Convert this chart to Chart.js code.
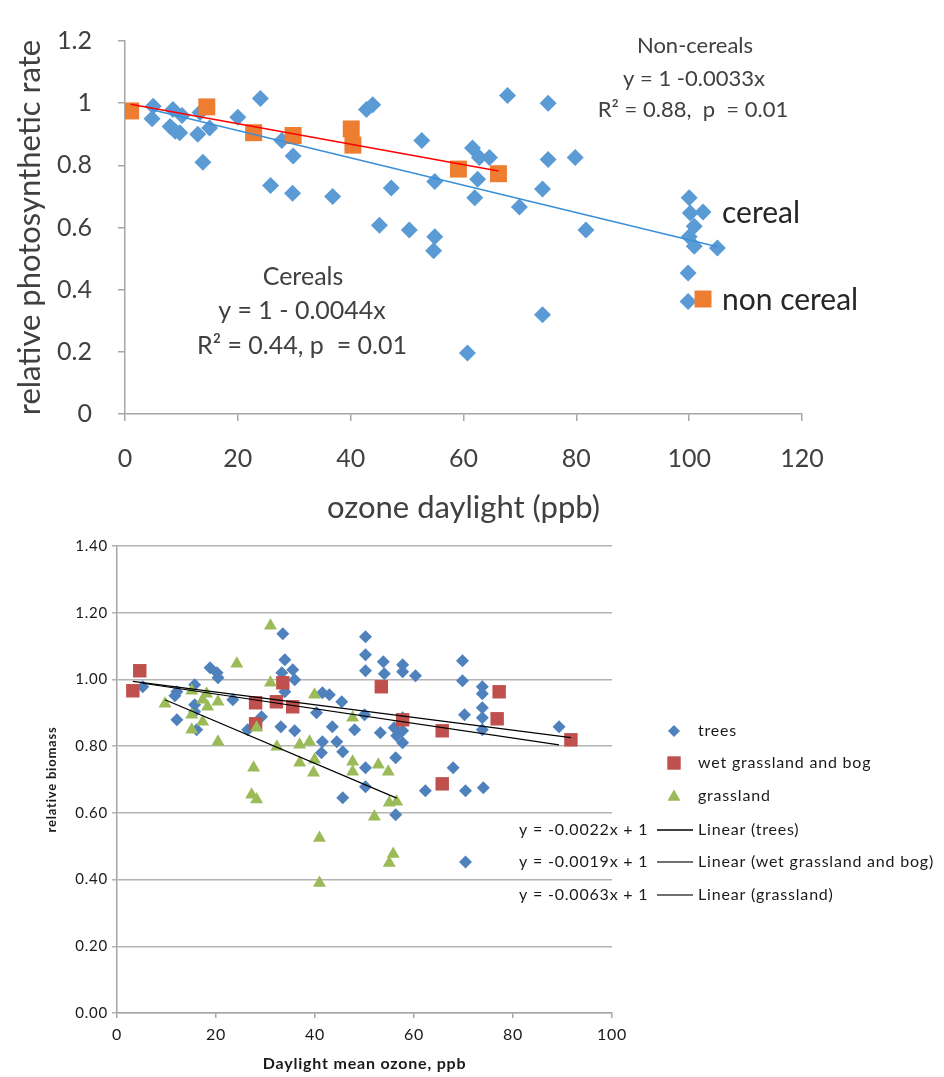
<!DOCTYPE html>
<html><head><meta charset="utf-8">
<script src="https://cdn.jsdelivr.net/npm/chart.js@4/dist/chart.umd.min.js"></script>
<style>
html,body{margin:0;padding:0;background:#fff;width:944px;height:1077px;overflow:hidden}
#c1{position:absolute;left:0;top:0}
#c2{position:absolute;left:0;top:530px}
</style></head><body>
<canvas id="c1" width="944" height="530"></canvas>
<canvas id="c2" width="944" height="547"></canvas>
<script>
// ===== Top chart data: relative photosynthetic rate vs ozone daylight (ppb)
const cerealX = [5,4.8,8.5,10.1,8,8.9,9.7,12.9,13.3,15,13.8,20,24,27.8,29.8,25.8,29.7,36.8,42.8,43.9,45.1,47.2,50.4,52.6,54.9,54.9,54.7,60.7,61.6,62.8,62.5,62,64.6,67.8,69.9,74,74,75,75,79.8,81.7,100,100.2,100.9,100,100.9,105,99.8,99.8];
const cerealY = [0.99,0.95,0.98,0.96,0.925,0.91,0.905,0.90,0.97,0.92,0.81,0.955,1.015,0.88,0.83,0.735,0.71,0.70,0.98,0.995,0.607,0.727,0.592,0.88,0.748,0.57,0.525,0.196,0.856,0.825,0.755,0.696,0.825,1.025,0.666,0.724,0.319,1.0,0.819,0.825,0.592,0.696,0.647,0.604,0.57,0.54,0.534,0.454,0.362];
const nonCerealX = [1,14.5,22.8,29.8,40.1,40.4,59.1,66.2];
const nonCerealY = [0.975,0.988,0.905,0.896,0.917,0.865,0.788,0.773];
const cerealFit = {intercept: 1, slope: -0.0044};
const nonCerealFit = {intercept: 1, slope: -0.0033};
const topXTicks = [0,20,40,60,80,100,120];
const topYTicks = [0,0.2,0.4,0.6,0.8,1,1.2];

// ===== Bottom chart data: relative biomass vs daylight mean ozone (ppb)
const treesX = [5.2,12.1,11.7,12.1,15.7,15.7,15.7,16.1,18.8,20.2,20.4,23.4,26.4,29.2,33.5,33.9,33.3,35.5,35.9,33.9,33.1,35.9,41.5,42.9,45.4,40.3,50,43.5,48,41.5,44.4,41.3,45.6,50.2,50.2,45.6,50.2,50.2,50.2,53.8,54,57.7,57.7,60.3,57.7,56,57.7,56.5,53.2,57.7,56.3,56.3,62.3,67.9,70.4,74,69.8,69.8,70.2,73.8,73.8,73.8,73.8,73.8,70.4,89.3];
const treesY = [0.978,0.963,0.951,0.879,0.984,0.924,0.903,0.849,1.035,1.02,1.005,0.939,0.849,0.888,1.137,1.059,1.02,1.029,0.999,0.963,0.858,0.846,0.96,0.954,0.933,0.9,0.894,0.858,0.849,0.813,0.813,0.78,0.783,0.735,0.678,0.645,1.128,1.074,1.026,1.053,1.017,1.044,1.023,1.011,0.885,0.855,0.846,0.831,0.84,0.81,0.765,0.594,0.666,0.735,0.666,0.675,1.056,0.996,0.894,0.978,0.957,0.915,0.885,0.849,0.453,0.858];
const wetX = [3.2,4.6,28,28,33.5,32.2,35.5,53.4,57.7,65.7,65.7,77.2,76.8,91.7];
const wetY = [0.966,1.026,0.93,0.867,0.99,0.933,0.918,0.978,0.879,0.846,0.687,0.963,0.882,0.819];
const grassX = [31,24.2,31,9.7,15.1,18.1,17.3,18.3,20.4,15.1,17.3,15.1,20.4,28.2,32.3,36.9,36.9,27.6,27.2,28.2,39.9,47.6,38.9,39.7,39.9,47.6,47.6,52.8,54.8,55,56.5,52,40.9,55.8,55,40.9];
const grassY = [1.161,1.047,0.99,0.927,0.966,0.957,0.939,0.918,0.933,0.894,0.873,0.849,0.813,0.855,0.798,0.804,0.75,0.735,0.654,0.64,0.954,0.885,0.813,0.72,0.759,0.753,0.723,0.744,0.723,0.63,0.633,0.588,0.525,0.477,0.45,0.39];
const treesFit = {intercept: 1, slope: -0.0022};
const wetFit = {intercept: 1, slope: -0.0019};
const grassFit = {intercept: 1, slope: -0.0063};
const bottomXTicks = [0,20,40,60,80,100];
const bottomYTicks = [0,0.2,0.4,0.6,0.8,1.0,1.2,1.4];

// ===== helpers
const FONT = 'Lato, "Open Sans", sans-serif';
const pts = (xs, ys) => xs.map((x, i) => ({x, y: ys[i]}));
const fitLine = (xs, f) => {
  const lo = Math.min(...xs), hi = Math.max(...xs);
  return [{x: lo, y: f.intercept + f.slope * lo}, {x: hi, y: f.intercept + f.slope * hi}];
};
function marker(ctx, style, x, y, r, color) {
  ctx.save(); ctx.fillStyle = color; ctx.beginPath();
  if (style === 'rectRot') { ctx.moveTo(x, y - r); ctx.lineTo(x + r, y); ctx.lineTo(x, y + r); ctx.lineTo(x - r, y); }
  else if (style === 'rect') { const h = r * Math.SQRT1_2; ctx.rect(x - h, y - h, 2 * h, 2 * h); }
  else if (style === 'triangle') { ctx.moveTo(x, y - r); ctx.lineTo(x + r * 0.866, y + r * 0.5); ctx.lineTo(x - r * 0.866, y + r * 0.5); }
  ctx.closePath(); ctx.fill(); ctx.restore();
}
function txt(ctx, s, x, y, font, color, align) {
  ctx.save(); ctx.font = font; ctx.fillStyle = color; ctx.textAlign = align || 'center'; ctx.textBaseline = 'middle';
  ctx.fillText(s, x, y); ctx.restore();
}
const setTicks = arr => scale => { scale.ticks = arr.map(v => ({value: v})); };
const spacing = px => ({id: 'spacing', beforeDraw(chart) { chart.ctx.letterSpacing = px; }});

// ===== Top chart
const topAnnot = {
  id: 'topAnnot',
  afterDraw(chart) {
    const c = chart.ctx, g = '#404040';
    txt(c, 'Non-cereals', 695, 46, '22px ' + FONT, g);
    txt(c, 'y = 1 -0.0033x', 694, 79, '22px ' + FONT, g);
    txt(c, 'R² = 0.88,  p  = 0.01', 693, 110, '22px ' + FONT, g);
    txt(c, 'Cereals', 303, 277, '25px ' + FONT, g);
    txt(c, 'y = 1 - 0.0044x', 302, 311, '25px ' + FONT, g);
    txt(c, 'R² = 0.44, p  = 0.01', 302, 346, '25px ' + FONT, g);
    marker(c, 'rectRot', 703, 212, 8.5, '#5b9bd5');
    txt(c, 'cereal', 722, 213, '30px ' + FONT, '#262626', 'left');
    marker(c, 'rect', 703, 299, 12, '#ed7d31');
    txt(c, 'non cereal', 722, 300, '30px ' + FONT, '#262626', 'left');
  }
};
new Chart(document.getElementById('c1'), {
  type: 'scatter',
  data: {datasets: [
    {label: 'Linear (cereal)', type: 'line', data: fitLine(cerealX, cerealFit), borderColor: '#3a8fd9', borderWidth: 1.5, pointRadius: 0, fill: false, order: 0},
    {label: 'Linear (non cereal)', type: 'line', data: fitLine(nonCerealX, nonCerealFit), borderColor: '#ff0000', borderWidth: 1.5, pointRadius: 0, fill: false, order: 1},
    {label: 'non cereal', data: pts(nonCerealX, nonCerealY), pointStyle: 'rect', pointRadius: 12, backgroundColor: '#ed7d31', borderWidth: 0, order: 2},
    {label: 'cereal', data: pts(cerealX, cerealY), pointStyle: 'rectRot', pointRadius: 8.5, backgroundColor: '#5b9bd5', borderWidth: 0, order: 3}
  ]},
  options: {
    responsive: false, animation: false, devicePixelRatio: 1, events: [],
    layout: {padding: {left: 0, right: 142, top: 22, bottom: 0}},
    plugins: {legend: {display: false}, tooltip: {enabled: false}},
    scales: {
      x: {type: 'linear', min: 0, max: 120, afterBuildTicks: setTicks(topXTicks),
        afterFit: s => { s.height = 116; },
        grid: {drawOnChartArea: false, drawTicks: true, tickLength: 7, color: '#a6a6a6', lineWidth: 1.5},
        border: {display: true, color: '#a6a6a6', width: 1.5},
        ticks: {font: {size: 25, family: FONT}, color: '#404040', padding: 23, maxRotation: 0},
        title: {display: true, text: 'ozone daylight (ppb)', font: {size: 31, family: FONT}, color: '#404040', padding: {top: 0, bottom: 3}}},
      y: {type: 'linear', min: 0, max: 1.2, afterBuildTicks: setTicks(topYTicks),
        afterFit: s => { s.width = 125; },
        grid: {drawOnChartArea: false, drawTicks: true, tickLength: 7, color: '#a6a6a6', lineWidth: 1.5},
        border: {display: true, color: '#a6a6a6', width: 1.5},
        ticks: {font: {size: 25, family: FONT}, color: '#404040', padding: 26, callback: v => String(+Number(v).toFixed(2))},
        title: {display: true, text: 'relative photosynthetic rate', font: {size: 31, family: FONT}, color: '#404040', padding: {top: 11, bottom: 0}}}
    }
  },
  plugins: [topAnnot]
});

// ===== Bottom chart
const botLegend = {
  id: 'botLegend',
  afterDraw(chart) {
    const c = chart.ctx, f = '16px ' + FONT, k = '#1a1a1a';
    marker(c, 'rectRot', 674, 201, 6, '#4f81bd'); txt(c, 'trees', 698, 201, f, k, 'left');
    marker(c, 'rect', 674, 233, 9.5, '#c0504d'); txt(c, 'wet grassland and bog', 698, 233, f, k, 'left');
    marker(c, 'triangle', 674, 267, 7.5, '#9bbb59'); txt(c, 'grassland', 698, 266, f, k, 'left');
    const rows = [['y = -0.0022x + 1', 'Linear (trees)', '#000', 300], ['y = -0.0019x + 1', 'Linear (wet grassland and bog)', '#404040', 332], ['y = -0.0063x + 1', 'Linear (grassland)', '#404040', 365]];
    for (const [eq, lab, col, y] of rows) {
      txt(c, eq, 519, y, f, k, 'left');
      c.save(); c.strokeStyle = col; c.lineWidth = 1.5; c.beginPath(); c.moveTo(657, y); c.lineTo(693, y); c.stroke(); c.restore();
      txt(c, lab, 698, y, f, k, 'left');
    }
  }
};
new Chart(document.getElementById('c2'), {
  type: 'scatter',
  data: {datasets: [
    {label: 'Linear (trees)', type: 'line', data: fitLine(treesX, treesFit), borderColor: '#000', borderWidth: 1.2, pointRadius: 0, fill: false, order: 0},
    {label: 'Linear (wet grassland and bog)', type: 'line', data: fitLine(wetX, wetFit), borderColor: '#000', borderWidth: 1.2, pointRadius: 0, fill: false, order: 1},
    {label: 'Linear (grassland)', type: 'line', data: fitLine(grassX, grassFit), borderColor: '#000', borderWidth: 1.2, pointRadius: 0, fill: false, order: 2},
    {label: 'grassland', data: pts(grassX, grassY), pointStyle: 'triangle', pointRadius: 7.5, backgroundColor: '#9bbb59', borderWidth: 0, order: 3},
    {label: 'wet grassland and bog', data: pts(wetX, wetY), pointStyle: 'rect', pointRadius: 9.5, backgroundColor: '#c0504d', borderWidth: 0, order: 4},
    {label: 'trees', data: pts(treesX, treesY), pointStyle: 'rectRot', pointRadius: 6.5, backgroundColor: '#4f81bd', borderWidth: 0, order: 5}
  ]},
  options: {
    responsive: false, animation: false, devicePixelRatio: 1, events: [],
    layout: {padding: {left: 0, right: 332, top: 16, bottom: 0}},
    plugins: {legend: {display: false}, tooltip: {enabled: false}},
    scales: {
      x: {type: 'linear', min: 0, max: 100, afterBuildTicks: setTicks(bottomXTicks),
        afterFit: s => { s.height = 64; },
        grid: {drawOnChartArea: false, drawTicks: true, tickLength: 5, color: '#a6a6a6', lineWidth: 1.5},
        border: {display: true, color: '#a6a6a6', width: 1.5},
        ticks: {font: {size: 16, family: FONT}, color: '#1a1a1a', padding: 7, maxRotation: 0},
        title: {display: true, text: 'Daylight mean ozone, ppb', font: {size: 16, weight: 'bold', family: FONT}, color: '#1a1a1a', padding: {top: 0, bottom: 4}}},
      y: {type: 'linear', min: 0, max: 1.4, afterBuildTicks: setTicks(bottomYTicks),
        afterFit: s => { s.width = 117; },
        grid: {drawOnChartArea: true, drawTicks: true, tickLength: 5, color: '#b3b3b3', lineWidth: 1.5},
        border: {display: true, color: '#a6a6a6', width: 1.5},
        ticks: {font: {size: 15, family: FONT}, color: '#1a1a1a', padding: 4, callback: v => Number(v).toFixed(2)},
        title: {display: true, text: 'relative biomass', font: {size: 13, weight: 'bold', family: FONT}, color: '#1a1a1a', padding: {top: 44, bottom: 0}}}
    }
  },
  plugins: [spacing('0.8px'), botLegend]
});
</script>
</body></html>
